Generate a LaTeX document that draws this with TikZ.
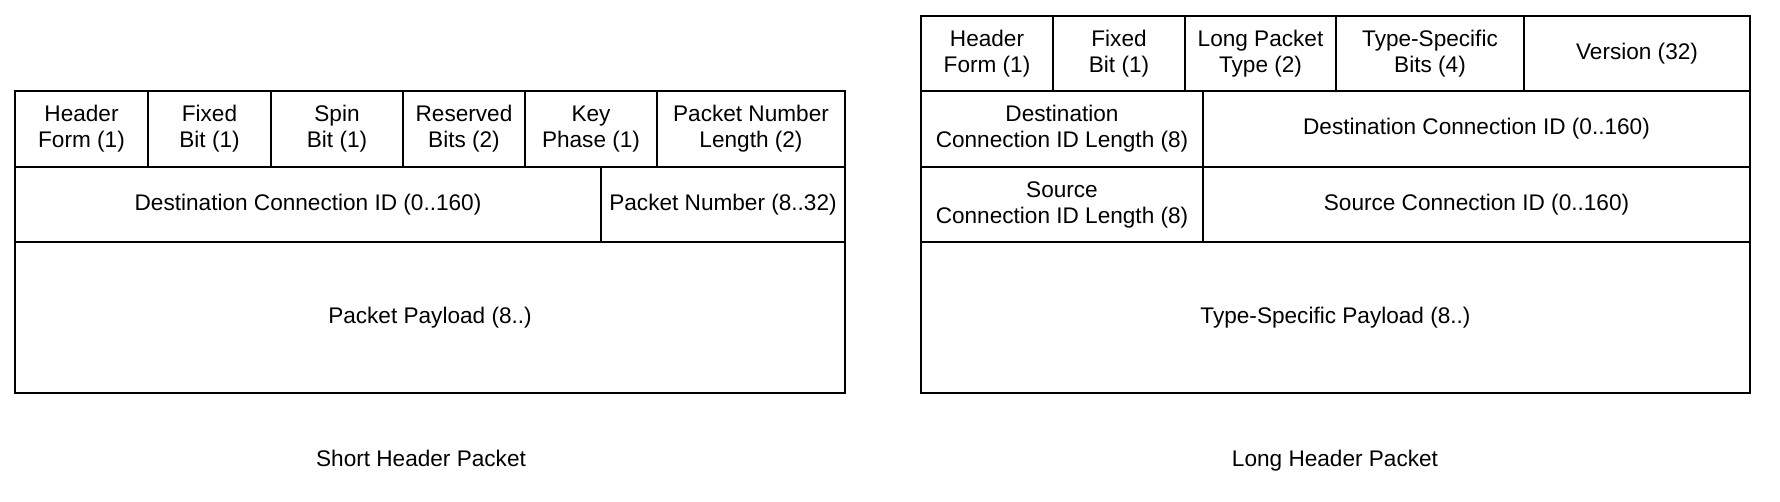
\documentclass[tikz,border=0pt]{standalone}
\usepackage{fontspec}
\setmainfont{Liberation Sans}

\tikzset{
  field/.style={draw, line width=0.8pt, inner sep=0pt, align=center,
    font=\fontsize{11.3}{13}\selectfont},
  caption/.style={anchor=base, font=\fontsize{11.3}{13}\selectfont}
}
% une case : nom, x1, y1, x2, y2, texte
\newcommand{\pktfield}[6]{%
  \node[field, minimum width={(#4-#2)*0.5pt}, minimum height={(#5-#3)*0.5pt}]
    (#1) at ({(#2+#4)/2},{(#3+#5)/2}) {#6};}

\begin{document}
\begin{tikzpicture}[x=0.5pt, y=-0.5pt]
  \useasboundingbox (0,0) rectangle (1780,502);

  % Short header
  \pktfield{shf}{15}{91}{148}{167}{Header\\Form (1)}
  \pktfield{sfb}{148}{91}{271}{167}{Fixed\\Bit (1)}
  \pktfield{ssb}{271}{91}{403}{167}{Spin\\Bit (1)}
  \pktfield{srb}{403}{91}{525}{167}{Reserved\\Bits (2)}
  \pktfield{skp}{525}{91}{657}{167}{Key\\Phase (1)}
  \pktfield{spnl}{657}{91}{845}{167}{Packet Number\\Length (2)}
  \pktfield{sdcid}{15}{167}{601}{242}{Destination Connection ID (0..160)}
  \pktfield{spn}{601}{167}{845}{242}{Packet Number (8..32)}
  \pktfield{spay}{15}{242}{845}{393}{Packet Payload (8..)}
  \node[caption] (scap) at (421,466) {Short Header Packet};

  % Long header
  \pktfield{lhf}{921}{16}{1053}{91}{Header\\Form (1)}
  \pktfield{lfb}{1053}{16}{1185}{91}{Fixed\\Bit (1)}
  \pktfield{lpt}{1185}{16}{1336}{91}{Long Packet\\Type (2)}
  \pktfield{ltsb}{1336}{16}{1524}{91}{Type-Specific\\Bits (4)}
  \pktfield{lver}{1524}{16}{1750}{91}{Version (32)}
  \pktfield{ldcil}{921}{91}{1203}{167}{Destination\\Connection ID Length (8)}
  \pktfield{ldcid}{1203}{91}{1750}{167}{Destination Connection ID (0..160)}
  \pktfield{lscil}{921}{167}{1203}{242}{Source\\Connection ID Length (8)}
  \pktfield{lscid}{1203}{167}{1750}{242}{Source Connection ID (0..160)}
  \pktfield{lpay}{921}{242}{1750}{393}{Type-Specific Payload (8..)}
  \node[caption] (lcap) at (1335,466) {Long Header Packet};
\end{tikzpicture}
\end{document}
